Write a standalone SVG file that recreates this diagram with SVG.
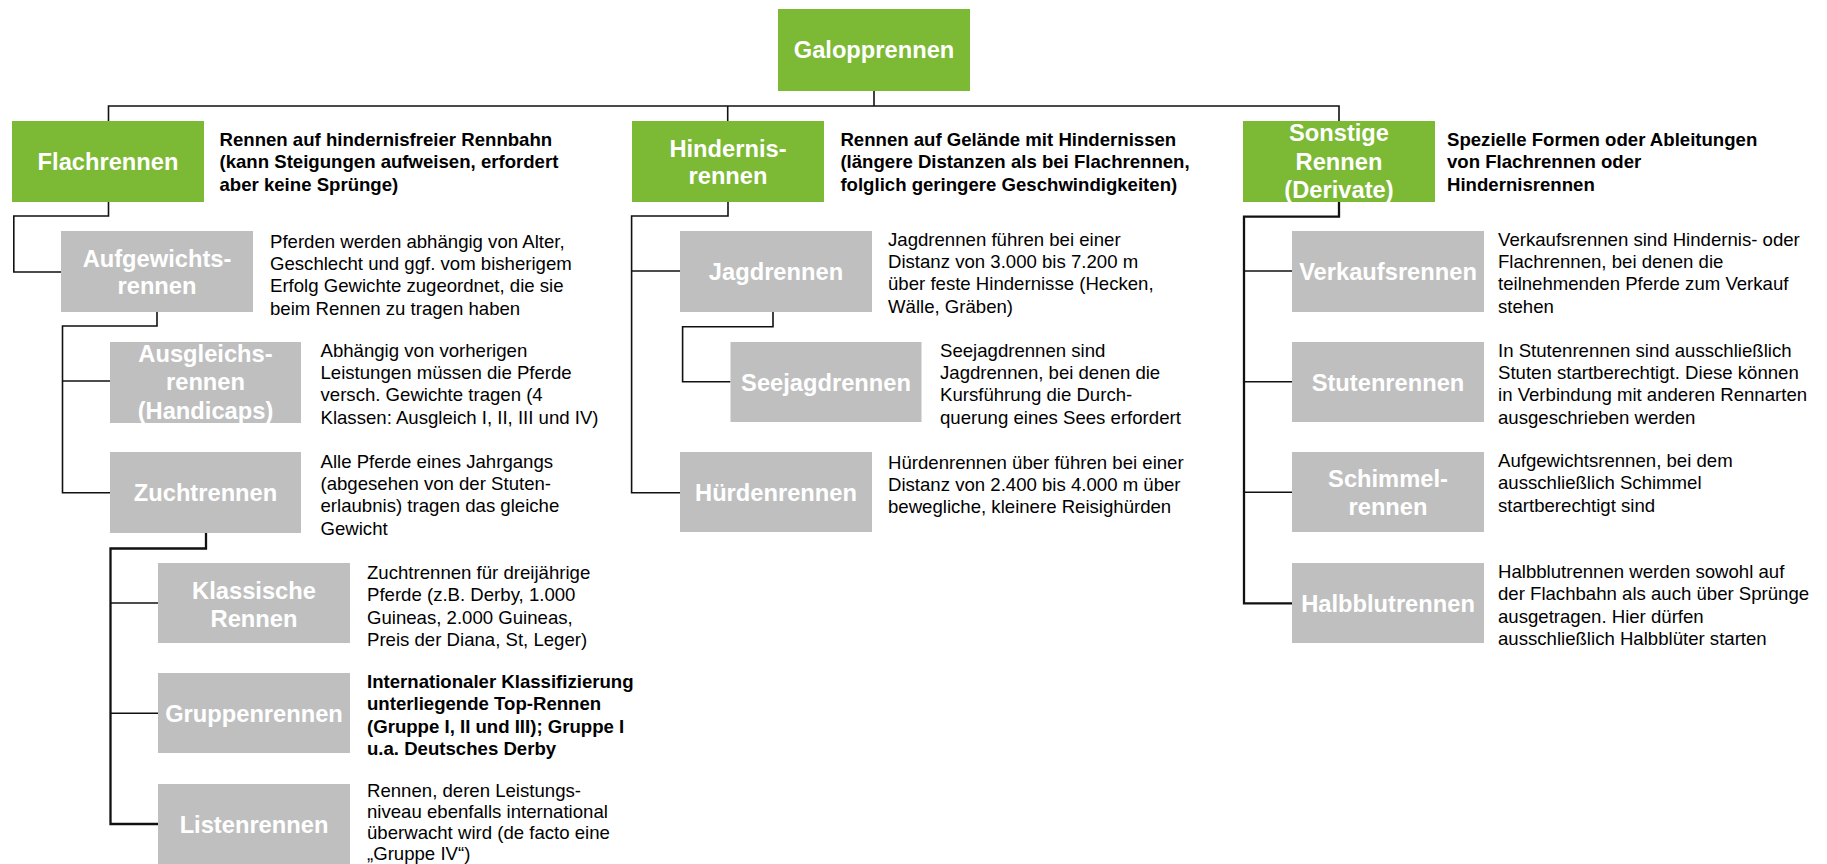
<svg xmlns="http://www.w3.org/2000/svg" width="1827" height="864" viewBox="0 0 1827 864">
<style>
.bg{fill:#ffffff}
.g{fill:#7cb934}
.s{fill:#bfbfbf}
.lbl{font-family:"Liberation Sans",Arial,sans-serif;font-weight:bold;font-size:23.7px;fill:#ffffff;text-anchor:middle}
.d{font-family:"Liberation Sans",Arial,sans-serif;font-size:18.6px;fill:#000000}
.b{font-weight:bold}
.c{fill:none;stroke:#111111;stroke-width:1.6}
.ct{fill:none;stroke:#111111;stroke-width:2.3}
</style>
<rect class="bg" x="0" y="0" width="1827" height="864"/>
<g id="connectors">
<path class="c" d="M874,91 V106"/>
<path class="c" d="M108.5,121 V106 H1339 V121"/>
<path class="c" d="M727.7,106 V121"/>
<path class="c" d="M108.5,202 V216 H13.8 V272 H61"/>
<path class="c" d="M157,312 V326 H62.5 V492.7 H110"/>
<path class="c" d="M62.5,381 H110"/>
<path class="ct" d="M206,533 V548.5 H110.5 V824 H158"/>
<path class="c" d="M110.5,603 H158"/>
<path class="c" d="M110.5,713.3 H158"/>
<path class="c" d="M728,202 V216 H631.6 V492.7 H680"/>
<path class="c" d="M631.6,271 H680"/>
<path class="c" d="M773,312 V326.7 H682.6 V381.7 H730.5"/>
<path class="ct" d="M1339,202 V216.7 H1244 V603.3 H1292"/>
<path class="c" d="M1244,271 H1292"/>
<path class="c" d="M1244,381.7 H1292"/>
<path class="c" d="M1244,492.3 H1292"/>
</g>
<g id="galopprennen">
<rect class="g" x="778" y="9" width="192" height="82"/>
<text class="lbl" x="874" y="58.4">Galopprennen</text>
</g>
<g id="flachrennen">
<rect class="g" x="12" y="121" width="192" height="81"/>
<text class="lbl" x="108" y="170">Flachrennen</text>
<text class="d b" x="219.5" y="146"><tspan x="219.5">Rennen auf hindernisfreier Rennbahn</tspan><tspan x="219.5" dy="22.4">(kann Steigungen aufweisen, erfordert</tspan><tspan x="219.5" dy="22.4">aber keine Sprünge)</tspan></text>
</g>
<g id="hindernisrennen">
<rect class="g" x="632" y="121" width="192" height="81"/>
<text class="lbl" x="728" y="156.5"><tspan x="728">Hindernis-</tspan><tspan x="728" dy="27.5">rennen</tspan></text>
<text class="d b" x="840.4" y="146"><tspan x="840.4">Rennen auf Gelände mit Hindernissen</tspan><tspan x="840.4" dy="22.4">(längere Distanzen als bei Flachrennen,</tspan><tspan x="840.4" dy="22.4">folglich geringere Geschwindigkeiten)</tspan></text>
</g>
<g id="sonstige">
<rect class="g" x="1243" y="121" width="192" height="81"/>
<text class="lbl" x="1339" y="141"><tspan x="1339">Sonstige</tspan><tspan x="1339" dy="28.5">Rennen</tspan><tspan x="1339" dy="28.5">(Derivate)</tspan></text>
<text class="d b" x="1447" y="146"><tspan x="1447">Spezielle Formen oder Ableitungen</tspan><tspan x="1447" dy="22.4">von Flachrennen oder</tspan><tspan x="1447" dy="22.4">Hindernisrennen</tspan></text>
</g>
<g id="aufgewichtsrennen">
<rect class="s" x="61" y="231" width="192" height="81"/>
<text class="lbl" x="157" y="266.5"><tspan x="157">Aufgewichts-</tspan><tspan x="157" dy="27.5">rennen</tspan></text>
<text class="d" x="270" y="247.5"><tspan x="270">Pferden werden abhängig von Alter,</tspan><tspan x="270" dy="22.4">Geschlecht und ggf. vom bisherigem</tspan><tspan x="270" dy="22.4">Erfolg Gewichte zugeordnet, die sie</tspan><tspan x="270" dy="22.4">beim Rennen zu tragen haben</tspan></text>
</g>
<g id="ausgleichsrennen">
<rect class="s" x="110" y="342" width="191" height="81"/>
<text class="lbl" x="205.5" y="362"><tspan x="205.5">Ausgleichs-</tspan><tspan x="205.5" dy="28.3">rennen</tspan><tspan x="205.5" dy="28.3">(Handicaps)</tspan></text>
<text class="d" x="320.5" y="356.5"><tspan x="320.5">Abhängig von vorherigen</tspan><tspan x="320.5" dy="22.4">Leistungen müssen die Pferde</tspan><tspan x="320.5" dy="22.4">versch. Gewichte tragen (4</tspan><tspan x="320.5" dy="22.4">Klassen: Ausgleich I, II, III und IV)</tspan></text>
</g>
<g id="zuchtrennen">
<rect class="s" x="110" y="452" width="191" height="81"/>
<text class="lbl" x="205.5" y="500.5">Zuchtrennen</text>
<text class="d" x="320.5" y="467.5"><tspan x="320.5">Alle Pferde eines Jahrgangs</tspan><tspan x="320.5" dy="22.4">(abgesehen von der Stuten-</tspan><tspan x="320.5" dy="22.4">erlaubnis) tragen das gleiche</tspan><tspan x="320.5" dy="22.4">Gewicht</tspan></text>
</g>
<g id="klassische">
<rect class="s" x="158" y="563" width="192" height="80"/>
<text class="lbl" x="254" y="599"><tspan x="254">Klassische</tspan><tspan x="254" dy="28">Rennen</tspan></text>
<text class="d" x="367" y="579"><tspan x="367">Zuchtrennen für dreijährige</tspan><tspan x="367" dy="22.4">Pferde (z.B. Derby, 1.000</tspan><tspan x="367" dy="22.4">Guineas, 2.000 Guineas,</tspan><tspan x="367" dy="22.4">Preis der Diana, St, Leger)</tspan></text>
</g>
<g id="gruppenrennen">
<rect class="s" x="158" y="673" width="192" height="80"/>
<text class="lbl" x="254" y="721.7">Gruppenrennen</text>
<text class="d b" x="367" y="688"><tspan x="367">Internationaler Klassifizierung</tspan><tspan x="367" dy="22.4">unterliegende Top-Rennen</tspan><tspan x="367" dy="22.4">(Gruppe I, II und III); Gruppe I</tspan><tspan x="367" dy="22.4">u.a. Deutsches Derby</tspan></text>
</g>
<g id="listenrennen">
<rect class="s" x="158" y="784" width="192" height="80"/>
<text class="lbl" x="254" y="833">Listenrennen</text>
<text class="d" x="367" y="796.5"><tspan x="367">Rennen, deren Leistungs-</tspan><tspan x="367" dy="21">niveau ebenfalls international</tspan><tspan x="367" dy="21">überwacht wird (de facto eine</tspan><tspan x="367" dy="21">„Gruppe IV“)</tspan></text>
</g>
<g id="jagdrennen">
<rect class="s" x="680" y="231" width="192" height="81"/>
<text class="lbl" x="776" y="280">Jagdrennen</text>
<text class="d" x="888" y="245.5"><tspan x="888">Jagdrennen führen bei einer</tspan><tspan x="888" dy="22.4">Distanz von 3.000 bis 7.200 m</tspan><tspan x="888" dy="22.4">über feste Hindernisse (Hecken,</tspan><tspan x="888" dy="22.4">Wälle, Gräben)</tspan></text>
</g>
<g id="seejagdrennen">
<rect class="s" x="730.5" y="342" width="191" height="80"/>
<text class="lbl" x="826" y="390.7">Seejagdrennen</text>
<text class="d" x="940" y="356.5"><tspan x="940">Seejagdrennen sind</tspan><tspan x="940" dy="22.4">Jagdrennen, bei denen die</tspan><tspan x="940" dy="22.4">Kursführung die Durch-</tspan><tspan x="940" dy="22.4">querung eines Sees erfordert</tspan></text>
</g>
<g id="huerdenrennen">
<rect class="s" x="680" y="452" width="192" height="80"/>
<text class="lbl" x="776" y="500.7">Hürdenrennen</text>
<text class="d" x="888" y="468.5"><tspan x="888">Hürdenrennen über führen bei einer</tspan><tspan x="888" dy="22.4">Distanz von 2.400 bis 4.000 m über</tspan><tspan x="888" dy="22.4">bewegliche, kleinere Reisighürden</tspan></text>
</g>
<g id="verkaufsrennen">
<rect class="s" x="1292" y="231" width="192" height="81"/>
<text class="lbl" x="1388" y="280">Verkaufsrennen</text>
<text class="d" x="1498" y="245.5"><tspan x="1498">Verkaufsrennen sind Hindernis- oder</tspan><tspan x="1498" dy="22.4">Flachrennen, bei denen die</tspan><tspan x="1498" dy="22.4">teilnehmenden Pferde zum Verkauf</tspan><tspan x="1498" dy="22.4">stehen</tspan></text>
</g>
<g id="stutenrennen">
<rect class="s" x="1292" y="342" width="192" height="80"/>
<text class="lbl" x="1388" y="390.7">Stutenrennen</text>
<text class="d" x="1498" y="356.5"><tspan x="1498">In Stutenrennen sind ausschließlich</tspan><tspan x="1498" dy="22.4">Stuten startberechtigt. Diese können</tspan><tspan x="1498" dy="22.4">in Verbindung mit anderen Rennarten</tspan><tspan x="1498" dy="22.4">ausgeschrieben werden</tspan></text>
</g>
<g id="schimmelrennen">
<rect class="s" x="1292" y="452" width="192" height="80"/>
<text class="lbl" x="1388" y="486.5"><tspan x="1388">Schimmel-</tspan><tspan x="1388" dy="28">rennen</tspan></text>
<text class="d" x="1498" y="467"><tspan x="1498">Aufgewichtsrennen, bei dem</tspan><tspan x="1498" dy="22.4">ausschließlich Schimmel</tspan><tspan x="1498" dy="22.4">startberechtigt sind</tspan></text>
</g>
<g id="halbblutrennen">
<rect class="s" x="1292" y="563" width="192" height="80"/>
<text class="lbl" x="1388" y="611.5">Halbblutrennen</text>
<text class="d" x="1498" y="578"><tspan x="1498">Halbblutrennen werden sowohl auf</tspan><tspan x="1498" dy="22.4">der Flachbahn als auch über Sprünge</tspan><tspan x="1498" dy="22.4">ausgetragen. Hier dürfen</tspan><tspan x="1498" dy="22.4">ausschließlich Halbblüter starten</tspan></text>
</g>
</svg>
